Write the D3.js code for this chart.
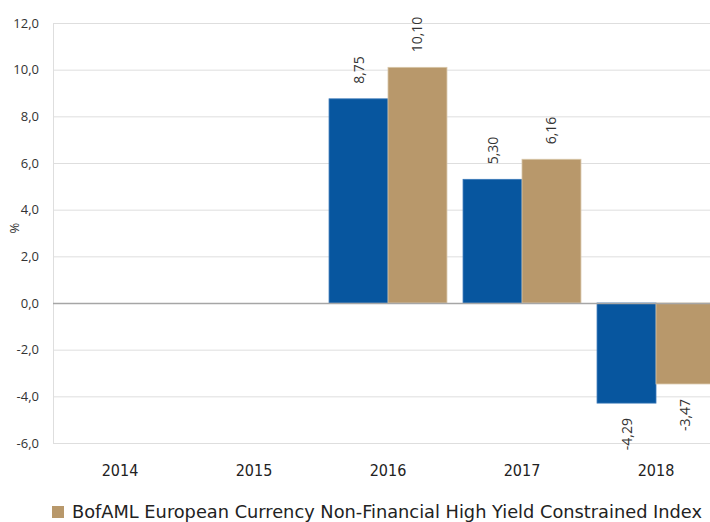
<!DOCTYPE html>
<html>
<head>
<meta charset="utf-8">
<script src="https://cdn.jsdelivr.net/npm/d3@7"></script>
<style>
    body { margin: 0; background: #fff; }
    svg { display: block; }
</style>
</head>
<body>
<svg class="returns"></svg>
<script>
// chart data
const years = ["2014", "2015", "2016", "2017", "2018"];
const seriesNames = ["Fund", "BofAML European Currency Non-Financial High Yield Constrained Index"];
const fundValues = [null, null, 8.75, 5.30, -4.29];
const indexValues = [null, null, 10.10, 6.16, -3.47];
const yTicks = [-6, -4, -2, 0, 2, 4, 6, 8, 10, 12];
const colors = ["#07569f", "#b8986b"];

const width = 710, height = 522;
const margin = {top: 23, left: 53};
const plotRight = 723, plotBottom = 443;

const svg = d3.select(".returns")
    .attr("width", width)
    .attr("height", height);

const x = d3.scaleBand()
    .domain(years)
    .range([margin.left, plotRight])
    .paddingInner(0.12)
    .paddingOuter(0.06);

const x1 = d3.scaleBand()
    .domain([0, 1])
    .range([0, x.bandwidth()]);

const y = d3.scaleLinear()
    .domain([-6, 12])
    .range([plotBottom, margin.top]);

// comma decimals, plain hyphen for negatives
const fmt = (v, p) => d3.format("." + p + "f")(v).replace(".", ",").replace("\u2212", "-");

// gridlines
svg.append("g")
    .selectAll("line")
    .data(yTicks)
    .enter().append("line")
    .attr("x1", margin.left)
    .attr("x2", plotRight)
    .attr("y1", d => y(d) + 0.5)
    .attr("y2", d => y(d) + 0.5)
    .style("stroke", "#dedede")
    .style("stroke-width", 1);

svg.append("line")
    .attr("x1", margin.left + 0.5)
    .attr("x2", margin.left + 0.5)
    .attr("y1", y(12))
    .attr("y2", y(-6))
    .style("stroke", "#dedede");

// y axis labels
const yAxis = svg.append("g")
    .attr("transform", `translate(${margin.left - 11},0)`)
    .call(d3.axisLeft(y).tickValues(yTicks).tickSize(0).tickFormat(d => fmt(d, 1)));
yAxis.select(".domain").remove();
yAxis.selectAll(".tick text")
    .style("font-family", "Open Sans")
    .style("font-size", "13px")
    .style("fill", "#333");

svg.append("text")
    .attr("transform", "translate(19,228)rotate(-90)")
    .attr("text-anchor", "middle")
    .style("font-family", "Open Sans")
    .style("font-size", "13px")
    .style("fill", "#333")
    .text("%");

// bars
const rows = years.map((yr, i) => ({year: yr, values: [fundValues[i], indexValues[i]]}));

const groups = svg.append("g")
    .selectAll("g")
    .data(rows)
    .enter().append("g")
    .attr("transform", d => `translate(${x(d.year)},0)`);

const items = groups.selectAll("g")
    .data(d => d.values.map((v, s) => ({v: v, s: s})).filter(d => d.v !== null))
    .enter().append("g");

items.append("rect")
    .attr("x", d => x1(d.s))
    .attr("width", x1.bandwidth())
    .attr("y", d => y(Math.max(0, d.v)))
    .attr("height", d => Math.abs(y(d.v) - y(0)))
    .style("fill", d => colors[d.s])
    .style("stroke", d => d.s === 0 ? "#3a78b8" : "#d8c6a8")
    .style("stroke-width", 0.8);

items.append("text")
    .attr("transform", d => {
        const cx = x1(d.s) + x1.bandwidth() / 2 + 5;
        const cy = d.v >= 0 ? y(d.v) - 15 : y(d.v) + 15;
        return `translate(${cx},${cy})rotate(-90)`;
    })
    .attr("text-anchor", d => d.v >= 0 ? "start" : "end")
    .style("font-family", "Open Sans")
    .style("font-size", "14px")
    .style("fill", "#333")
    .text(d => fmt(d.v, 2));

// zero line
svg.append("line")
    .attr("x1", margin.left)
    .attr("x2", plotRight)
    .attr("y1", y(0) + 0.5)
    .attr("y2", y(0) + 0.5)
    .style("stroke", "#a6a6a6")
    .style("stroke-width", 1.5);

// x axis labels
svg.append("g")
    .selectAll("text")
    .data(years)
    .enter().append("text")
    .attr("x", d => x(d) + x.bandwidth() / 2)
    .attr("y", 476)
    .attr("text-anchor", "middle")
    .style("font-family", "DejaVu Sans Condensed")
    .style("font-size", "16px")
    .style("fill", "#222")
    .text(d => d);

// legend
const legend = svg.append("g").attr("transform", "translate(52,506)");
legend.append("rect")
    .attr("width", 12)
    .attr("height", 12)
    .style("fill", colors[1]);
legend.append("text")
    .attr("x", 20)
    .attr("y", 12)
    .attr("textLength", 630)
    .attr("lengthAdjust", "spacingAndGlyphs")
    .style("font-family", "DejaVu Sans Condensed")
    .style("font-size", "17px")
    .style("fill", "#222")
    .text(seriesNames[1]);
</script>
</body>
</html>
